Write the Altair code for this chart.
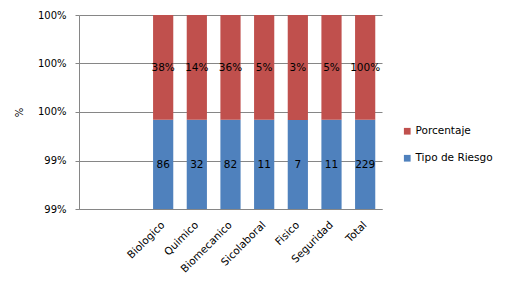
import altair as alt
import pandas as pd

categories = ["Biologico", "Quimico", "Biomecanico", "Sicolaboral", "Fisico", "Seguridad", "Total"]
tipo_riesgo = [86, 32, 82, 11, 7, 11, 229]
porcentaje = [0.3755, 0.1397, 0.3581, 0.0480, 0.0306, 0.0480, 1.0]
series_names = ["Tipo de Riesgo", "Porcentaje"]
colors = ["#4F81BD", "#C0504D"]
y_lo = 0.99195
y_ticks = [0.99195, 0.99396, 0.99598, 0.99799, 1.0]

rows = []
for c, t, p in zip(categories, tipo_riesgo, porcentaje):
    rows.append({"cat": c, "series": "Tipo de Riesgo", "value": t, "order": 0})
    rows.append({"cat": c, "series": "Porcentaje", "value": p, "order": 1})
df = pd.DataFrame(rows)

x_domain = ["", " "] + categories
FONT = "DejaVu Sans"

base = alt.Chart(df).transform_stack(
    stack="value", groupby=["cat"], as_=["y0", "y1"], offset="normalize",
    sort=[alt.SortField("order", "ascending")]
).transform_calculate(
    ymid=f"(max(datum.y0, {y_lo}) + datum.y1) / 2",
    label="datum.series == 'Porcentaje' ? format(datum.value, '.0%') : format(datum.value, 'd')"
)

x_enc = alt.X("cat:N", scale=alt.Scale(domain=x_domain, paddingInner=0.4, paddingOuter=0.2),
              axis=alt.Axis(title=None, labelAngle=-45, labelAlign="right", labelBaseline="middle",
                            ticks=False, labelPadding=14, domainColor="#868686",
                            labelFont=FONT, labelFontSize=10.5, labelColor="#000000"))
y_scale = alt.Scale(domain=[y_lo, 1.0], nice=False, zero=False)

bars = base.mark_bar(clip=True).encode(
    x=x_enc,
    y=alt.Y("y0:Q", scale=y_scale,
            axis=alt.Axis(values=y_ticks, format=".0%", title="%", titleX=-55, titleY=97,
                          titleAngle=270, titleFont=FONT, titleFontSize=10, titleFontWeight="normal",
                          titleColor="#000000",
                          labelFont=FONT, labelFontSize=10, labelColor="#000000",
                          tickSize=4, tickColor="#868686", labelPadding=9,
                          domainColor="#868686", gridColor="#868686")),
    y2="y1:Q",
    color=alt.Color("series:N", scale=alt.Scale(domain=series_names, range=colors),
                    sort=["Porcentaje", "Tipo de Riesgo"],
                    legend=alt.Legend(title=None, orient="none", legendX=323, legendY=111,
                                      symbolType="square", symbolSize=45, symbolStrokeWidth=0,
                                      labelFont=FONT, labelFontSize=10.5, labelColor="#000000",
                                      rowPadding=16, labelOffset=3, values=["Porcentaje", "Tipo de Riesgo"])),
)

labels = base.mark_text(font=FONT, fontSize=10.5, color="#000000", baseline="middle", dy=1).encode(
    x=alt.X("cat:N", scale=alt.Scale(domain=x_domain, paddingInner=0.4, paddingOuter=0.2)),
    y=alt.Y("ymid:Q", scale=y_scale),
    text="label:N",
)

chart = alt.layer(bars, labels).properties(
    width=303, height=194,
    autosize=alt.AutoSizeParams(type="none"),
    padding={"left": 71, "top": 7, "right": 116, "bottom": 69},
).configure_view(stroke=None).configure_axis(grid=True).configure_axisX(grid=False)

chart.save("out.html", embed_options={"renderer": "svg", "actions": False})
